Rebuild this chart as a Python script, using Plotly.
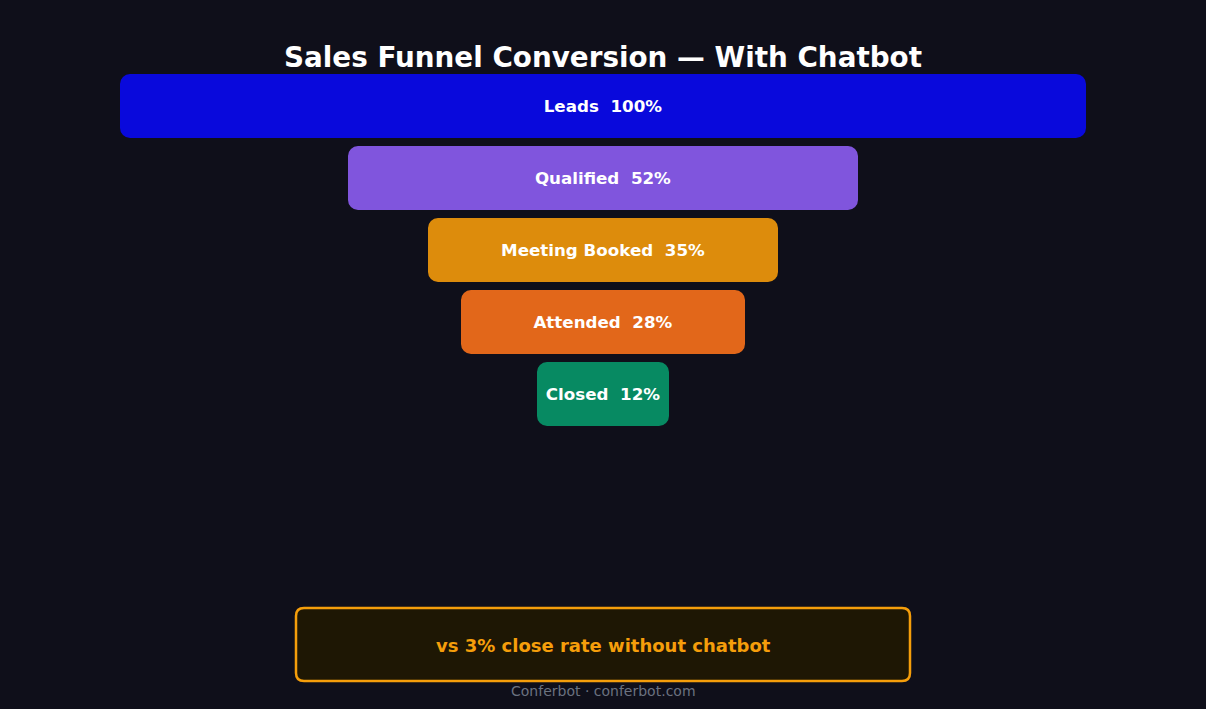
import plotly.graph_objects as go

# funnel stages (top to bottom)
stages = ['Leads', 'Qualified', 'Meeting Booked', 'Attended', 'Closed']
pct = [100, 52, 35, 28, 12]
colors = ['#0909dc', '#8055dd', '#dd8c0c', '#e2671a', '#078a62']

note_text = 'vs 3% close rate without chatbot'
footer_text = 'Conferbot · conferbot.com'

BG = '#0f0f1a'
W, H = 1206, 709
ML, MR, MT, MB = 80, 80, 70, 9
plot_w = W - ML - MR
plot_h = H - MT - MB
px_per_pct = 9.48
row_px = 72

pos = list(range(len(stages)))
labels = [f'{s}\u00a0\u00a0{p}%' for s, p in zip(stages, pct)]

fig = go.Figure()
fig.add_trace(go.Bar(
    y=pos,
    x=pct,
    base=[-p / 2 for p in pct],
    orientation='h',
    width=46 / row_px,
    marker=dict(color=colors, line=dict(color=colors, width=18), cornerradius=1),
    text=labels,
    textposition='inside',
    insidetextanchor='middle',
    constraintext='none',
    textfont=dict(family='DejaVu Sans', size=16.7, color='white', weight='bold'),
    hoverinfo='skip',
    showlegend=False,
))

half = plot_w / 2 / px_per_pct
fig.update_xaxes(range=[-half, half], visible=False, fixedrange=True)
fig.update_yaxes(range=[plot_h / row_px - 0.5, -0.5], visible=False, fixedrange=True)


def to_paper(px, py):
    return (px - ML) / plot_w, (H - MB - py) / plot_h


# rounded note box
x0, y0 = to_paper(296, 608)
x1, y1 = to_paper(910, 681)
rx, ry = 8 / plot_w, 8 / plot_h
path = (f'M {x0+rx},{y0} L {x1-rx},{y0} Q {x1},{y0} {x1},{y0-ry} '
        f'L {x1},{y1+ry} Q {x1},{y1} {x1-rx},{y1} '
        f'L {x0+rx},{y1} Q {x0},{y1} {x0},{y1+ry} '
        f'L {x0},{y0-ry} Q {x0},{y0} {x0+rx},{y0} Z')
fig.add_shape(type='path', path=path, xref='paper', yref='paper',
              fillcolor='#1e1704', line=dict(color='#f59e0b', width=2.5), layer='below')

_, ny = to_paper(0, 645)
fig.add_annotation(x=0.5, y=ny, xref='paper', yref='paper', text=note_text,
                   showarrow=False, yanchor='middle',
                   font=dict(family='DejaVu Sans', size=18, color='#f59e0b', weight='bold'))

_, fy = to_paper(0, 691)
fig.add_annotation(x=0.5, y=fy, xref='paper', yref='paper', text=footer_text,
                   showarrow=False, yanchor='middle',
                   font=dict(family='DejaVu Sans', size=14, color='#6b7280'))

fig.update_layout(
    width=W, height=H,
    margin=dict(l=ML, r=MR, t=MT, b=MB),
    paper_bgcolor=BG, plot_bgcolor=BG,
    title=dict(text='Sales Funnel Conversion — With Chatbot', x=0.5, xanchor='center',
               y=1 - 57 / H, yanchor='middle',
               font=dict(family='DejaVu Sans', size=27.8, color='white', weight='bold')),
    bargap=0,
)

fig.write_html('out.html', config={'displayModeBar': False},
               post_script="document.body.style.margin='0';")
